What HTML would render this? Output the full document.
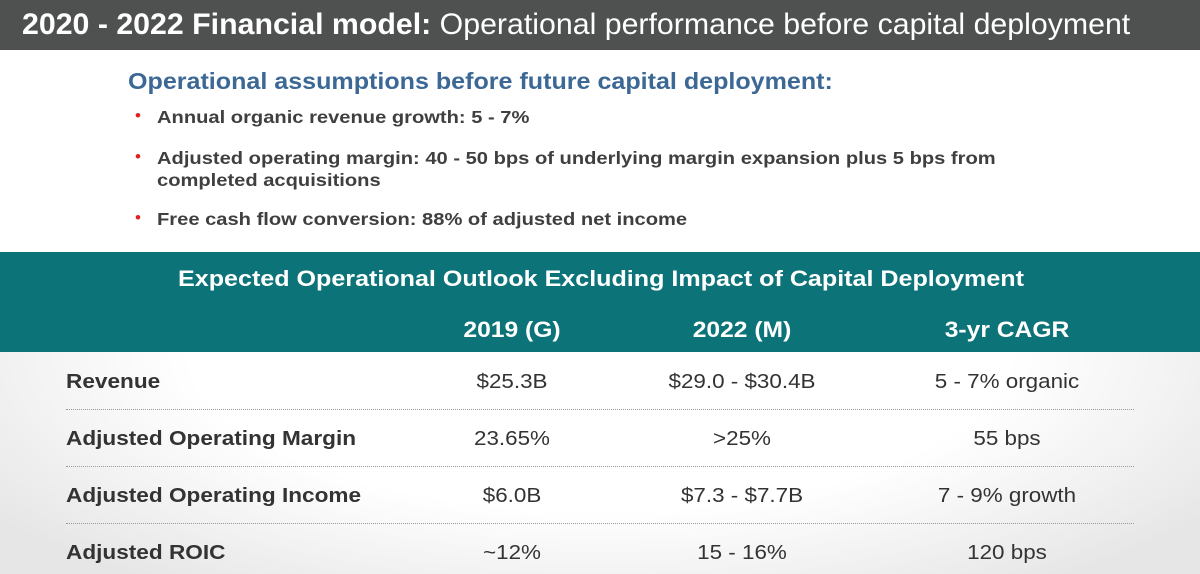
<!DOCTYPE html>
<html><head><meta charset="utf-8"><style>
body{margin:0;width:1200px;height:574px;overflow:hidden;font-family:"Liberation Sans",Arial,sans-serif;background:#fff;position:relative}
.abs{position:absolute;white-space:nowrap}
#hdr{left:0;top:0;width:1200px;height:50px;background:#4f5050}
#hdr span{position:absolute;left:22px;top:7px;font-size:30px;color:#fff;line-height:36px;transform:scaleX(1.01);transform-origin:left}
#h2{left:128px;top:68px;font-size:23px;font-weight:bold;color:#3c6896;transform:scaleX(1.09);transform-origin:left}
.bul{font-size:17.5px;font-weight:bold;color:#3f3f3f;left:157px;line-height:22px;transform:scaleX(1.15);transform-origin:left}
.dot{color:#e02020;font-size:17px;left:135px}
#band{left:0;top:252px;width:1200px;height:100px;background:#0c7479}
#tbl{left:0;top:352px;width:1200px;height:222px;background:radial-gradient(ellipse 62% 130% at 50% 0%,#fff 55%,#e6e6e6 100%)}
.th{color:#fff;font-weight:bold;font-size:22px}
.c{font-size:20px;color:#333;transform:translateX(-50%) scaleX(1.12)}
.lab{font-size:20px;font-weight:bold;color:#333;left:66px;transform:scaleX(1.13);transform-origin:left}
.line{left:66px;width:1068px;border-top:1.5px dotted #9a9a9a;height:0}
</style></head><body>
<div id="hdr" class="abs"><span><b>2020 - 2022 Financial model:</b> Operational performance before capital deployment</span></div>
<div id="h2" class="abs">Operational assumptions before future capital deployment:</div>
<div class="abs dot" style="top:106px">•</div>
<div class="abs bul" style="top:106px">Annual organic revenue growth: 5 - 7%</div>
<div class="abs dot" style="top:147px">•</div>
<div class="abs bul" style="top:147px">Adjusted operating margin: 40 - 50 bps of underlying margin expansion plus 5 bps from<br>completed acquisitions</div>
<div class="abs dot" style="top:208px">•</div>
<div class="abs bul" style="top:208px">Free cash flow conversion: 88% of adjusted net income</div>
<div id="band" class="abs"></div>
<div class="abs th" style="left:601px;top:266px;transform:translateX(-50%) scaleX(1.14)">Expected Operational Outlook Excluding Impact of Capital Deployment</div>
<div class="abs c" style="left:512px;top:317px;color:#fff;font-weight:bold;font-size:22px">2019 (G)</div>
<div class="abs c" style="left:742px;top:317px;color:#fff;font-weight:bold;font-size:22px">2022 (M)</div>
<div class="abs c" style="left:1007px;top:317px;color:#fff;font-weight:bold;font-size:22px">3-yr CAGR</div>
<div id="tbl" class="abs"></div>
<div class="abs lab" style="top:371px">Revenue</div>
<div class="abs c" style="left:512px;top:371px">$25.3B</div>
<div class="abs c" style="left:742px;top:371px">$29.0 - $30.4B</div>
<div class="abs c" style="left:1007px;top:371px">5 - 7% organic</div>
<div class="abs line" style="top:409px"></div>
<div class="abs lab" style="top:428px">Adjusted Operating Margin</div>
<div class="abs c" style="left:512px;top:428px">23.65%</div>
<div class="abs c" style="left:742px;top:428px">&gt;25%</div>
<div class="abs c" style="left:1007px;top:428px">55 bps</div>
<div class="abs line" style="top:466px"></div>
<div class="abs lab" style="top:485px">Adjusted Operating Income</div>
<div class="abs c" style="left:512px;top:485px">$6.0B</div>
<div class="abs c" style="left:742px;top:485px">$7.3 - $7.7B</div>
<div class="abs c" style="left:1007px;top:485px">7 - 9% growth</div>
<div class="abs line" style="top:523px"></div>
<div class="abs lab" style="top:542px">Adjusted ROIC</div>
<div class="abs c" style="left:512px;top:542px">~12%</div>
<div class="abs c" style="left:742px;top:542px">15 - 16%</div>
<div class="abs c" style="left:1007px;top:542px">120 bps</div>
</body></html>
